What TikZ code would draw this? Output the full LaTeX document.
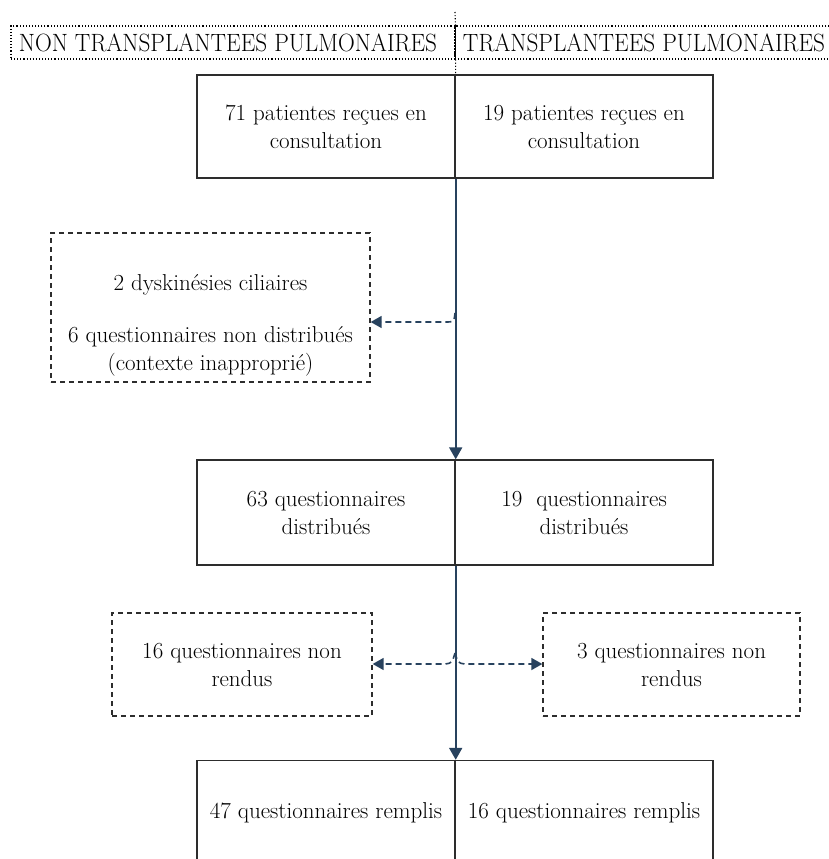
\documentclass[tikz,border=0pt]{standalone}
\usepackage{amsmath}
\usepackage{tikz}
\usetikzlibrary{arrows.meta, positioning, calc}
\definecolor{flowblue}{RGB}{40,66,94}
\definecolor{boxgray}{RGB}{45,45,45}
\tikzset{
	box/.style={draw=boxgray, line width=1.4pt, minimum width=258pt, align=center, inner sep=0pt},
	dashbox/.style={draw=boxgray, line width=1.3pt, dash pattern=on 5pt off 4pt, align=center, inner sep=0pt},
	headbox/.style={draw=black, line width=1.1pt, dotted, minimum height=33pt, inner sep=0pt},
	flow/.style={draw=flowblue, line width=2pt, -{Triangle[length=12pt,width=13pt]}},
	sideflow/.style={draw=flowblue, line width=1.6pt, dash pattern=on 6pt off 4pt, -{Triangle[length=11pt,width=12pt]}},
	txt/.style={font=\fontsize{23}{28}\selectfont},
	headtxt/.style={font=\fontsize{25}{28}\selectfont}
}
\begin{document}
\begin{tikzpicture}[x=1pt, y=-1pt]
		\useasboundingbox (0,0) rectangle (829,859);
		\clip (0,0) rectangle (829,859);
			%header
			\node[headbox, minimum width=444pt] (headnt) at (233,42.5) {};
			\node[headbox, minimum width=380pt] (headt) at (645,42.5) {};
			\node[headtxt] (headntlbl) at (228,43) {\scalebox{0.93}[1]{NON TRANSPLANTEES PULMONAIRES}};
			\node[headtxt] (headtlbl) at (644,43) {\scalebox{0.93}[1]{TRANSPLANTEES PULMONAIRES}};
			\draw[black, line width=1.2pt] (headnt.north east) -- (headnt.south east);

			%main boxes
			\node[box, txt, minimum height=103pt] (recnt) at (326,126.5) {71 patientes reçues en\\consultation};
			\node[box, txt, minimum height=103pt] (rect) at (584,126.5) {19 patientes reçues en\\consultation};
			\node[box, txt, minimum height=105pt] (distnt) at (326,512.5) {63 questionnaires\\distribués};
			\node[box, txt, minimum height=105pt] (distt) at (584,512.5) {19\ \ questionnaires\\distribués};
			\node[box, txt, minimum height=105pt] (fillnt) at (326,813) {47 questionnaires remplis};
			\node[box, txt, minimum height=105pt] (fillt) at (584,813) {16 questionnaires remplis};

			%excluded
			\node[dashbox, minimum width=319pt, minimum height=149pt] (excl) at (210.5,307.5) {};
			\node[txt, align=center] (excllbl) at (210.5,325) {2 dyskinésies ciliaires\\[24pt]6 questionnaires non distribués\\(contexte inapproprié)};
			\node[dashbox, txt, minimum width=260pt, minimum height=103pt] (lostnt) at (242,664.5) {16 questionnaires non\\rendus};
			\node[dashbox, txt, minimum width=257pt, minimum height=103pt] (lostt) at (671.5,664.5) {3 questionnaires non\\rendus};

			%dotted divider
			\coordinate (top) at (455,12);
			\draw[black, line width=1.1pt, dotted] (top) -- (headnt.north east);
			\draw[black, line width=1.1pt, dotted] (headnt.south east) -- (recnt.north east);

			%flow
			\draw[flow] (recnt.south east) -- (distnt.north east);
			\draw[flow] (distnt.south east) -- (fillnt.north east);

			\coordinate (split1) at (455,322);
			\coordinate (split2) at (455,664);
			\draw[sideflow] ([yshift=9pt]split1) .. controls ([xshift=-1pt]split1) .. ([xshift=-10pt]split1) -- (excl.east |- split1);
			\draw[sideflow] ([yshift=11pt]split2) .. controls ([xshift=-3pt, yshift=1pt]split2) .. ([xshift=-10pt]split2) -- (lostnt.east |- split2);
			\draw[sideflow] ([yshift=11pt]split2) .. controls ([xshift=3pt, yshift=1pt]split2) .. ([xshift=10pt]split2) -- (lostt.west |- split2);
\end{tikzpicture}
\end{document}
